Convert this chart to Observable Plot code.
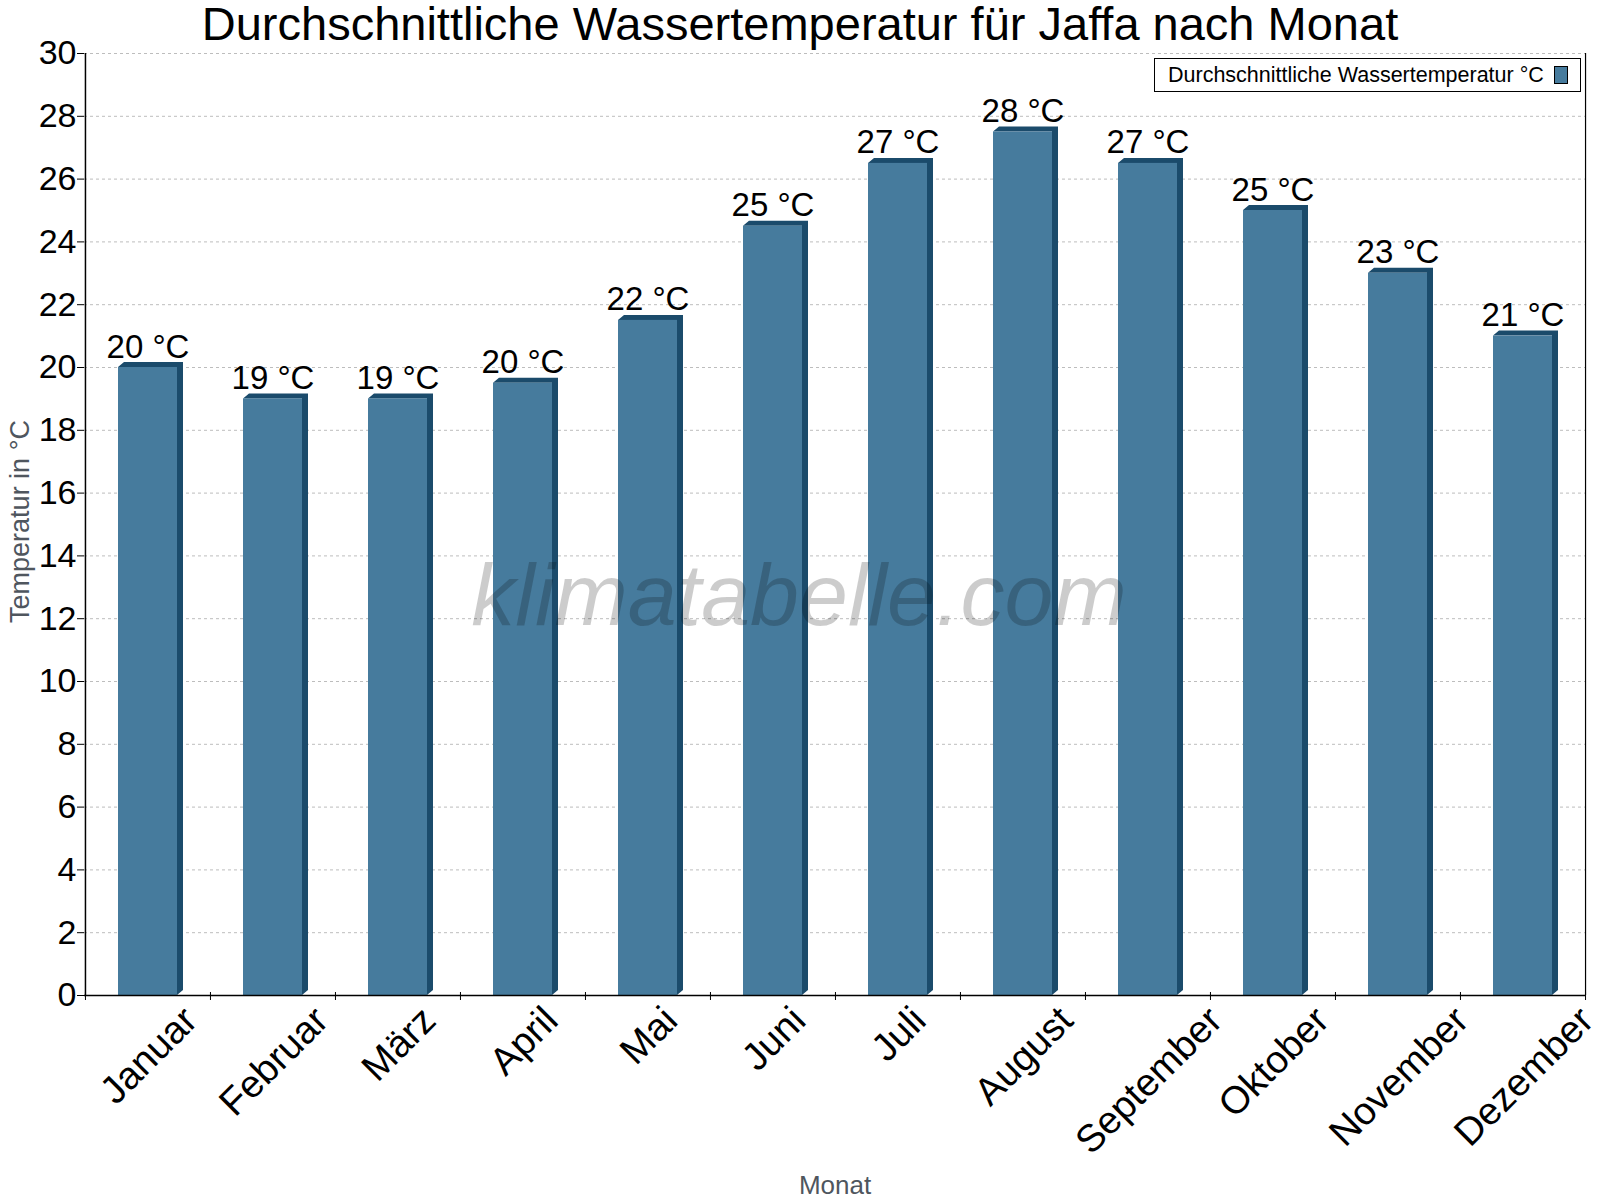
<!DOCTYPE html>
<html>
<head>
<meta charset="utf-8">
<script src="https://cdn.jsdelivr.net/npm/d3@7"></script>
<script src="https://cdn.jsdelivr.net/npm/@observablehq/plot@0.6"></script>
<style>
  body { margin: 0; background: #fff; font-family: "Liberation Sans", Arial, sans-serif; }
  #wrap { position: relative; width: 1600px; height: 1200px; background: #fff; }
  #title { height: 50px; line-height: 47px; font-size: 47px; text-align: center; color: #000; white-space: nowrap; }
  #legend { position: absolute; left: 1154px; top: 58px; width: 425px; height: 32px; border: 1px solid #000; background: #fff; z-index: 2; }
  #legend .txt { position: absolute; left: 13px; top: 0; line-height: 32px; font-size: 21.5px; color: #000; white-space: nowrap; }
  #legend .sw { position: absolute; left: 399px; top: 7px; width: 12px; height: 16px; border: 1px solid #000; background: #467b9d; }
  #chart svg { overflow: visible; }
</style>
</head>
<body>
<div id="wrap">
  <div id="title">Durchschnittliche Wassertemperatur für Jaffa nach Monat</div>
  <div id="chart"></div>
  <div id="legend"><span class="txt">Durchschnittliche Wassertemperatur °C</span><span class="sw"></span></div>
</div>
<script>
// ---- data ----
const months = ["Januar", "Februar", "März", "April", "Mai", "Juni", "Juli", "August", "September", "Oktober", "November", "Dezember"];
const temps = [20, 19, 19, 19.5, 21.5, 24.5, 26.5, 27.5, 26.5, 25, 23, 21];
const valueLabels = ["20 °C", "19 °C", "19 °C", "20 °C", "22 °C", "25 °C", "27 °C", "28 °C", "27 °C", "25 °C", "23 °C", "21 °C"];
const yTicks = [0, 2, 4, 6, 8, 10, 12, 14, 16, 18, 20, 22, 24, 26, 28, 30];
const yLabel = "Temperatur in °C";
const xLabel = "Monat";
const watermark = "klimatabelle.com";

const data = months.map((m, i) => ({month: m, temp: temps[i], label: valueLabels[i]}));

// ---- layout / style ----
const W = 1600, H = 1150, ML = 84, MR = 15, MT = 3, MB = 205;
const step = (W - ML - MR) / months.length;
const FRONT = "#467b9d", DARK = "#1b4b6b";
const DX3 = 6, DY3 = 5;
const FONT = "'Liberation Sans', Arial, sans-serif";
const GRAY = "#4f565e";
const XFS = 38.5;

// measure label widths for rotated x labels
const ctx = document.createElement("canvas").getContext("2d");
ctx.font = `${XFS}px 'Liberation Sans'`;

// 3D side/top faces drawn with the plot's own scales
function faces(index, scales) {
  const x = scales.x, y = scales.y;
  const bw = typeof x.bandwidth === "function" ? x.bandwidth() : x.bandwidth;
  const g = d3.create("svg:g");
  for (const d of data) {
    const x0 = x(d.month), x1 = x0 + bw, yt = y(d.temp), yb = y(0);
    const pts = [[x0, yt], [x0 + DX3, yt - DY3], [x1 + DX3, yt - DY3], [x1 + DX3, yb - DY3], [x1, yb], [x1, yt]];
    g.append("polygon").attr("points", pts.map(p => p.join(",")).join(" ")).attr("fill", DARK);
  }
  return g.node();
}

const xLabelMarks = months.map(m => {
  const L = ctx.measureText(m).width;
  return Plot.text([m], {
    x: d => d, text: d => d, frameAnchor: "bottom",
    rotate: -45, textAnchor: "middle", lineAnchor: "middle",
    dx: 1, dy: 18.5 + 0.354 * L, fontSize: XFS, fill: "#000"
  });
});

const chart = Plot.plot({
  width: W, height: H,
  marginLeft: ML, marginRight: MR, marginTop: MT, marginBottom: MB,
  style: {fontFamily: FONT, color: "#000", background: "transparent", overflow: "visible"},
  x: {type: "band", domain: months, paddingInner: 0.528, paddingOuter: 0.264, axis: null},
  y: {domain: [0, 30], axis: null},
  marks: [
    Plot.gridY(yTicks, {stroke: "#bdbdbd", strokeOpacity: 1, strokeDasharray: "3,3"}),
    faces,
    Plot.barY(data, {x: "month", y: "temp", fill: FRONT}),
    Plot.text(data, {x: "month", y: "temp", text: "label", lineAnchor: "bottom", dy: -10, fontSize: 33, fill: "#000"}),
    Plot.text([watermark], {text: d => d, frameAnchor: "middle", dx: -36, dy: 72, fontSize: 88, fontStyle: "italic", fill: "#000", fillOpacity: 0.2}),
    Plot.ruleY([0], {stroke: "#000", strokeWidth: 1.5}),
    Plot.ruleX([months[0]], {dx: -step / 2, y1: 0, y2: 30, stroke: "#000", strokeWidth: 1.5}),
    Plot.ruleX([months[months.length - 1]], {dx: step / 2, y1: 0, y2: 30, stroke: "#000", strokeWidth: 1.2}),
    Plot.ruleX(months, {dx: -step / 2, y1: 0, y2: 0, insetTop: -3, insetBottom: -5, stroke: "#000"}),
    Plot.ruleX([months[months.length - 1]], {dx: step / 2, y1: 0, y2: 0, insetTop: -3, insetBottom: -5, stroke: "#000"}),
    Plot.axisY({ticks: yTicks, tickSize: 7, tickPadding: 1, fontSize: 34, tickFormat: d => String(d), label: null, stroke: "#000", fill: "#000"}),
    Plot.text([yLabel], {text: d => d, frameAnchor: "left", dx: -64, dy: -3, rotate: -90, textAnchor: "middle", fontSize: 27, fill: GRAY}),
    Plot.text([xLabel], {text: d => d, frameAnchor: "bottom", dy: 198, lineAnchor: "bottom", fontSize: 26, fill: GRAY}),
    ...xLabelMarks
  ]
});
document.getElementById("chart").appendChild(chart);
</script>
</body>
</html>
